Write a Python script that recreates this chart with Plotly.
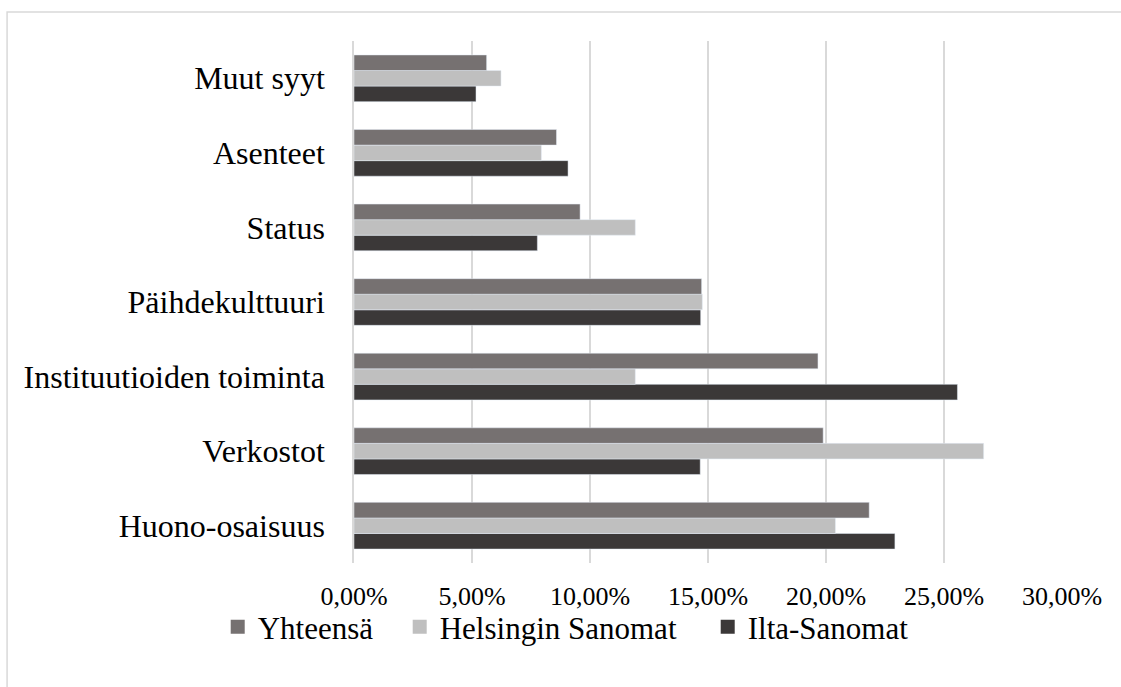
import plotly.graph_objects as go

categories = ["Huono-osaisuus", "Verkostot", "Instituutioiden toiminta",
              "Päihdekulttuuri", "Status", "Asenteet", "Muut syyt"]
yhteensa = [0.2183, 0.1988, 0.1966, 0.1473, 0.0958, 0.0858, 0.0562]
helsingin_sanomat = [0.2040, 0.2668, 0.1192, 0.1476, 0.1192, 0.0794, 0.0623]
ilta_sanomat = [0.2292, 0.1467, 0.2557, 0.1469, 0.0777, 0.0907, 0.0517]
tick_values = [0, 0.05, 0.10, 0.15, 0.20, 0.25, 0.30]

series = [
    ("Yhteensä", yhteensa, "#767171", 137),
    ("Helsingin Sanomat", helsingin_sanomat, "#BFBFBF", 263),
    ("Ilta-Sanomat", ilta_sanomat, "#3B3838", None),
]

FONT = "Liberation Serif"

fig = go.Figure()
# bars: last added is drawn on top within a group, so add in reverse order
for name, vals, color, _ in reversed(series):
    fig.add_trace(go.Bar(y=categories, x=vals, name=name, orientation="h",
                         marker=dict(color=color), showlegend=False))
# legend entries with square swatches
for i, (name, vals, color, lw) in enumerate(series):
    kw = dict(legendwidth=lw) if lw else {}
    fig.add_trace(go.Scatter(x=[None], y=[None], mode="markers", name=name,
                             marker=dict(symbol="square", size=14, color=color),
                             legendrank=i + 1, hoverinfo="skip", **kw))

fig.update_layout(
    width=1121, height=687,
    margin=dict(l=354, r=59, t=41, b=124),
    paper_bgcolor="white", plot_bgcolor="white",
    barmode="group", bargap=0.374, bargroupgap=0,
    separators=", ",
    font=dict(family=FONT, color="#000000", size=26),
    showlegend=True,
    legend=dict(orientation="h",
                x=-0.1925, xanchor="left", y=-0.1226, yanchor="middle",
                font=dict(family=FONT, size=31, color="#000000"),
                itemwidth=30,
                bgcolor="rgba(0,0,0,0)"),
    xaxis=dict(range=[0, 0.30], tickvals=tick_values, tickformat=".2%",
               showgrid=True, gridcolor="#D9D9D9", gridwidth=1.5,
               zeroline=False, showline=False, ticks="",
               ticklabelstandoff=15,
               tickfont=dict(family=FONT, size=26, color="#000000")),
    yaxis=dict(showgrid=False, zeroline=False, showline=True,
               linecolor="#D9D9D9", linewidth=1.5, ticks="",
               ticklabelstandoff=21,
               tickfont=dict(family=FONT, size=32, color="#000000")),
    shapes=[dict(type="rect", xref="paper", yref="paper",
                 x0=-0.49, x1=1.2, y0=-0.6, y1=1.0556,
                 line=dict(color="#D9D9D9", width=1.5),
                 fillcolor="rgba(0,0,0,0)", layer="below")],
)

fig.write_html("out.html",
               config={"displayModeBar": False},
               post_script="document.body.style.margin='0px';"
                           "document.body.style.overflow='hidden';")
